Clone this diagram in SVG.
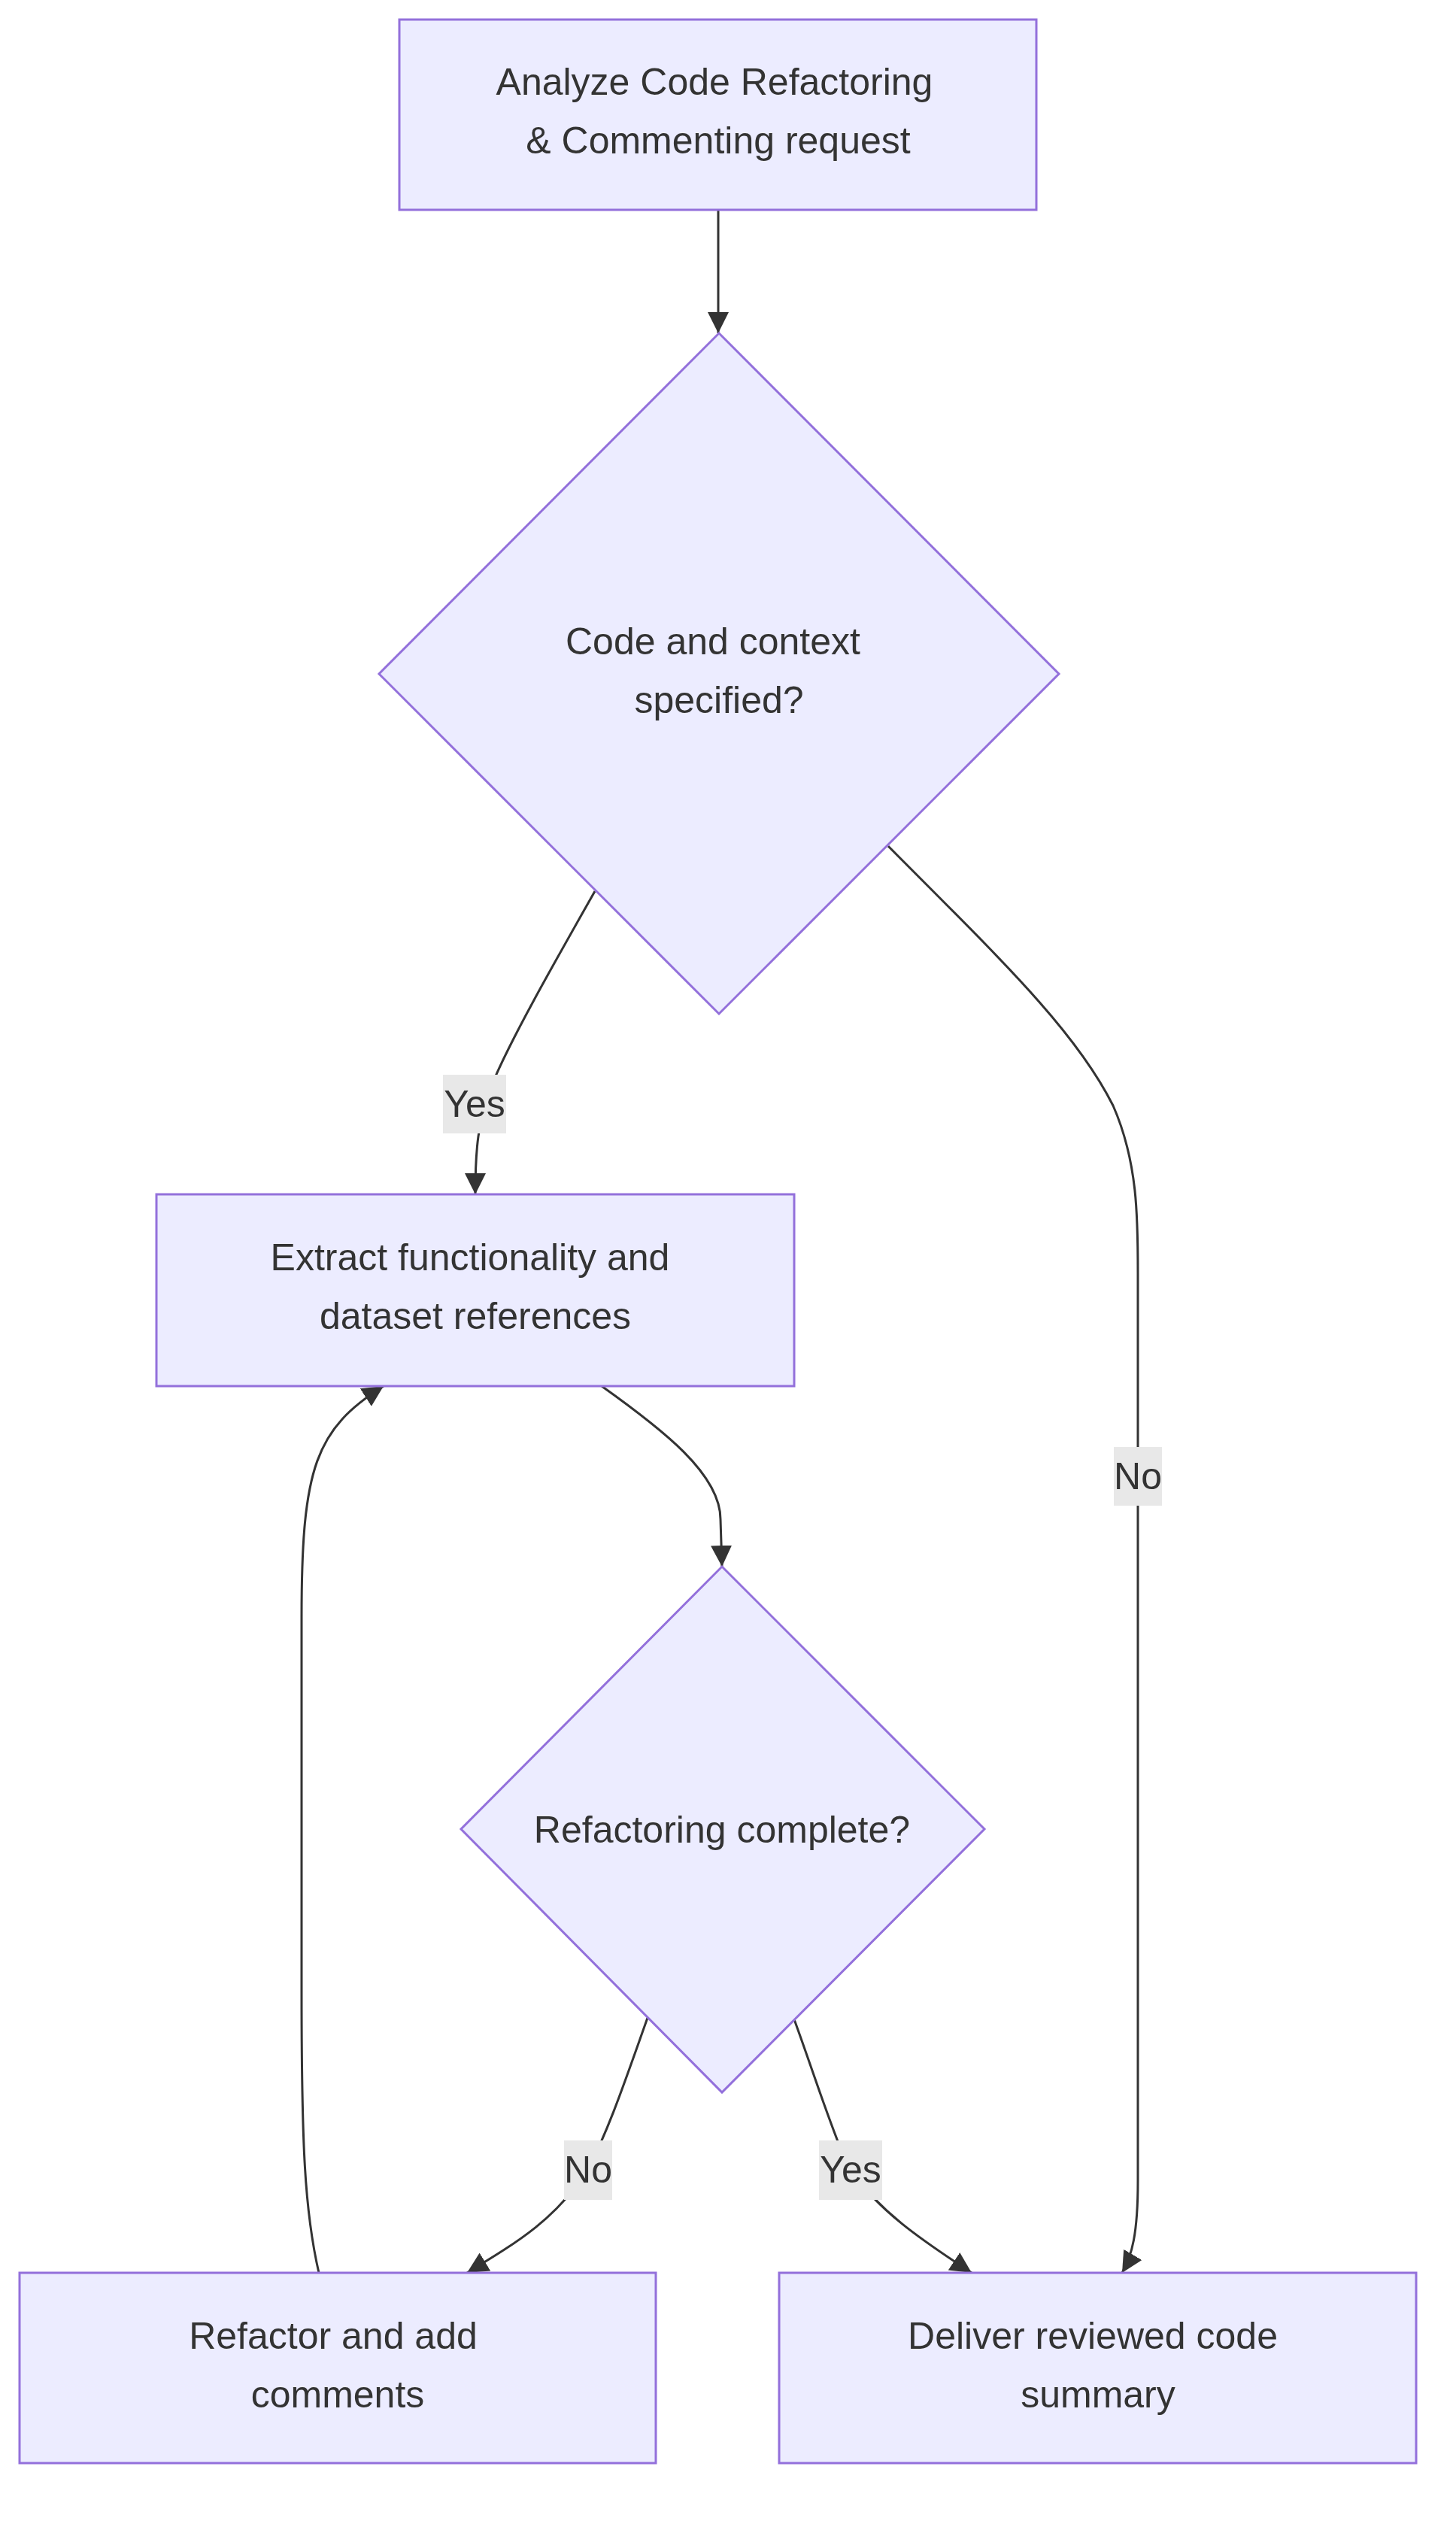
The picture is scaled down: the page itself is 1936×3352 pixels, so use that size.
<svg xmlns="http://www.w3.org/2000/svg" width="1936" height="3352" viewBox="0 0 1936 3352">
<style>
.n{fill:#ECECFF;stroke:#9370DB;stroke-width:3}
.t{font-family:"Liberation Sans",Arial,sans-serif;font-size:50px;fill:#333;text-anchor:middle}
.e{fill:none;stroke:#333;stroke-width:3}
.lb{fill:#E8E8E8}
</style>
<defs>
<marker id="a" markerUnits="userSpaceOnUse" markerWidth="28" markerHeight="28" viewBox="0 0 20 20" refX="20" refY="10" orient="auto">
<path d="M0,0 L20,10 L0,20 Z" fill="#333"/>
</marker>
</defs>
<rect width="1936" height="3352" fill="#fff"/>
<g id="edges">
<path class="e" d="M955,279 L955,443" marker-end="url(#a)"/>
<path class="e" d="M791,1185 C740,1275 680,1380 655,1440 C635,1490 632,1530 632,1588" marker-end="url(#a)"/>
<path class="e" d="M1181,1125 C1330,1275 1430,1370 1480,1470 C1513,1545 1513,1620 1513,1693 L1513,2900 C1513,2970 1505,3000 1492,3022" marker-end="url(#a)"/>
<path class="e" d="M800,1843 C880,1900 958,1960 958,2020 L960,2083" marker-end="url(#a)"/>
<path class="e" d="M861,2683 C830,2770 810,2830 782,2884 C740,2950 690,2980 621,3022" marker-end="url(#a)"/>
<path class="e" d="M1056,2685 C1085,2765 1105,2830 1129,2884 C1170,2940 1220,2975 1292,3022" marker-end="url(#a)"/>
<path class="e" d="M424,3022 C405,2940 401,2850 401,2650 L401,2150 C401,1950 420,1900 510,1843" marker-end="url(#a)"/>
</g>
<g id="labels">
<rect class="lb" x="589" y="1429" width="84" height="78"/><text class="t" x="631" y="1485">Yes</text>
<rect class="lb" x="1481" y="1924" width="64" height="78"/><text class="t" x="1513" y="1980">No</text>
<rect class="lb" x="750" y="2846" width="64" height="79"/><text class="t" x="782" y="2902">No</text>
<rect class="lb" x="1089" y="2846" width="84" height="79"/><text class="t" x="1131" y="2902">Yes</text>
</g>
<g id="A"><rect class="n" x="531" y="26" width="847" height="253"/>
<text class="t" x="950" y="126">Analyze Code Refactoring</text><text class="t" x="955" y="204">&amp; Commenting request</text></g>
<g id="B"><polygon class="n" points="956,443 1408,896 956,1348 504,896"/>
<text class="t" x="948" y="870">Code and context</text><text class="t" x="956" y="948">specified?</text></g>
<g id="C"><rect class="n" x="208" y="1588" width="848" height="255"/>
<text class="t" x="625" y="1689">Extract functionality and</text><text class="t" x="632" y="1767">dataset references</text></g>
<g id="D"><polygon class="n" points="960,2083 1309,2432 960,2782 613,2432"/>
<text class="t" x="960" y="2450">Refactoring complete?</text></g>
<g id="E"><rect class="n" x="26" y="3022" width="846" height="253"/>
<text class="t" x="443" y="3123">Refactor and add</text><text class="t" x="449" y="3201">comments</text></g>
<g id="F"><rect class="n" x="1036" y="3022" width="847" height="253"/>
<text class="t" x="1453" y="3123">Deliver reviewed code</text><text class="t" x="1460" y="3201">summary</text></g>
</svg>
